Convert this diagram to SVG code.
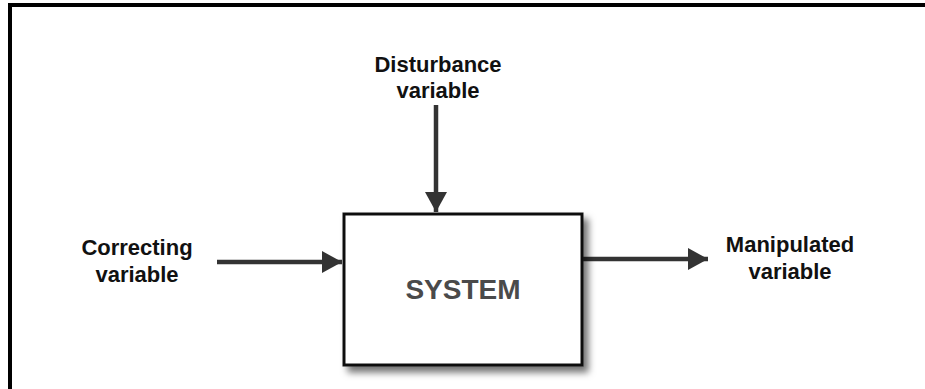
<svg xmlns="http://www.w3.org/2000/svg" width="925" height="389" viewBox="0 0 925 389">
  <style>
    .label { font-family: "Liberation Sans", Arial, sans-serif; font-size: 22px; font-weight: bold; fill: #111; text-anchor: middle; }
    .title { font-family: "Liberation Sans", Arial, sans-serif; font-size: 28px; font-weight: bold; fill: #4a4a4a; text-anchor: middle; }
    .wire { stroke: #333; stroke-width: 4.5; fill: none; }
  </style>
  <defs>
    <marker id="head" viewBox="0 0 20 22" refX="20" refY="11" markerWidth="20" markerHeight="22" markerUnits="userSpaceOnUse" orient="auto">
      <path d="M0,0 L20,11 L0,22 Z" fill="#333"/>
    </marker>
    <filter id="shadow" x="-10%" y="-10%" width="130%" height="130%">
      <feDropShadow dx="5" dy="6" stdDeviation="3.5" flood-color="#000" flood-opacity="0.55"/>
    </filter>
  </defs>

  <rect width="925" height="389" fill="#fff"/>
  <!-- page frame -->
  <rect x="10" y="5" width="930" height="400" fill="none" stroke="#000" stroke-width="4"/>

  <g id="connectors">
    <line class="wire" x1="436" y1="105" x2="436" y2="212" marker-end="url(#head)"/>
    <line class="wire" x1="217" y1="262" x2="342" y2="262" marker-end="url(#head)"/>
    <line class="wire" x1="583" y1="259" x2="708" y2="259" marker-end="url(#head)"/>
  </g>

  <g id="system">
    <rect x="344" y="214" width="238" height="151" fill="#fff" stroke="#111" stroke-width="3" filter="url(#shadow)"/>
    <text class="title" x="463" y="299">SYSTEM</text>
  </g>

  <g id="disturbance">
    <text class="label" x="438" y="72">Disturbance</text>
    <text class="label" x="438" y="98">variable</text>
  </g>

  <g id="correcting">
    <text class="label" x="137" y="255">Correcting</text>
    <text class="label" x="137" y="282">variable</text>
  </g>

  <g id="manipulated">
    <text class="label" x="790" y="252">Manipulated</text>
    <text class="label" x="790" y="279">variable</text>
  </g>
</svg>
